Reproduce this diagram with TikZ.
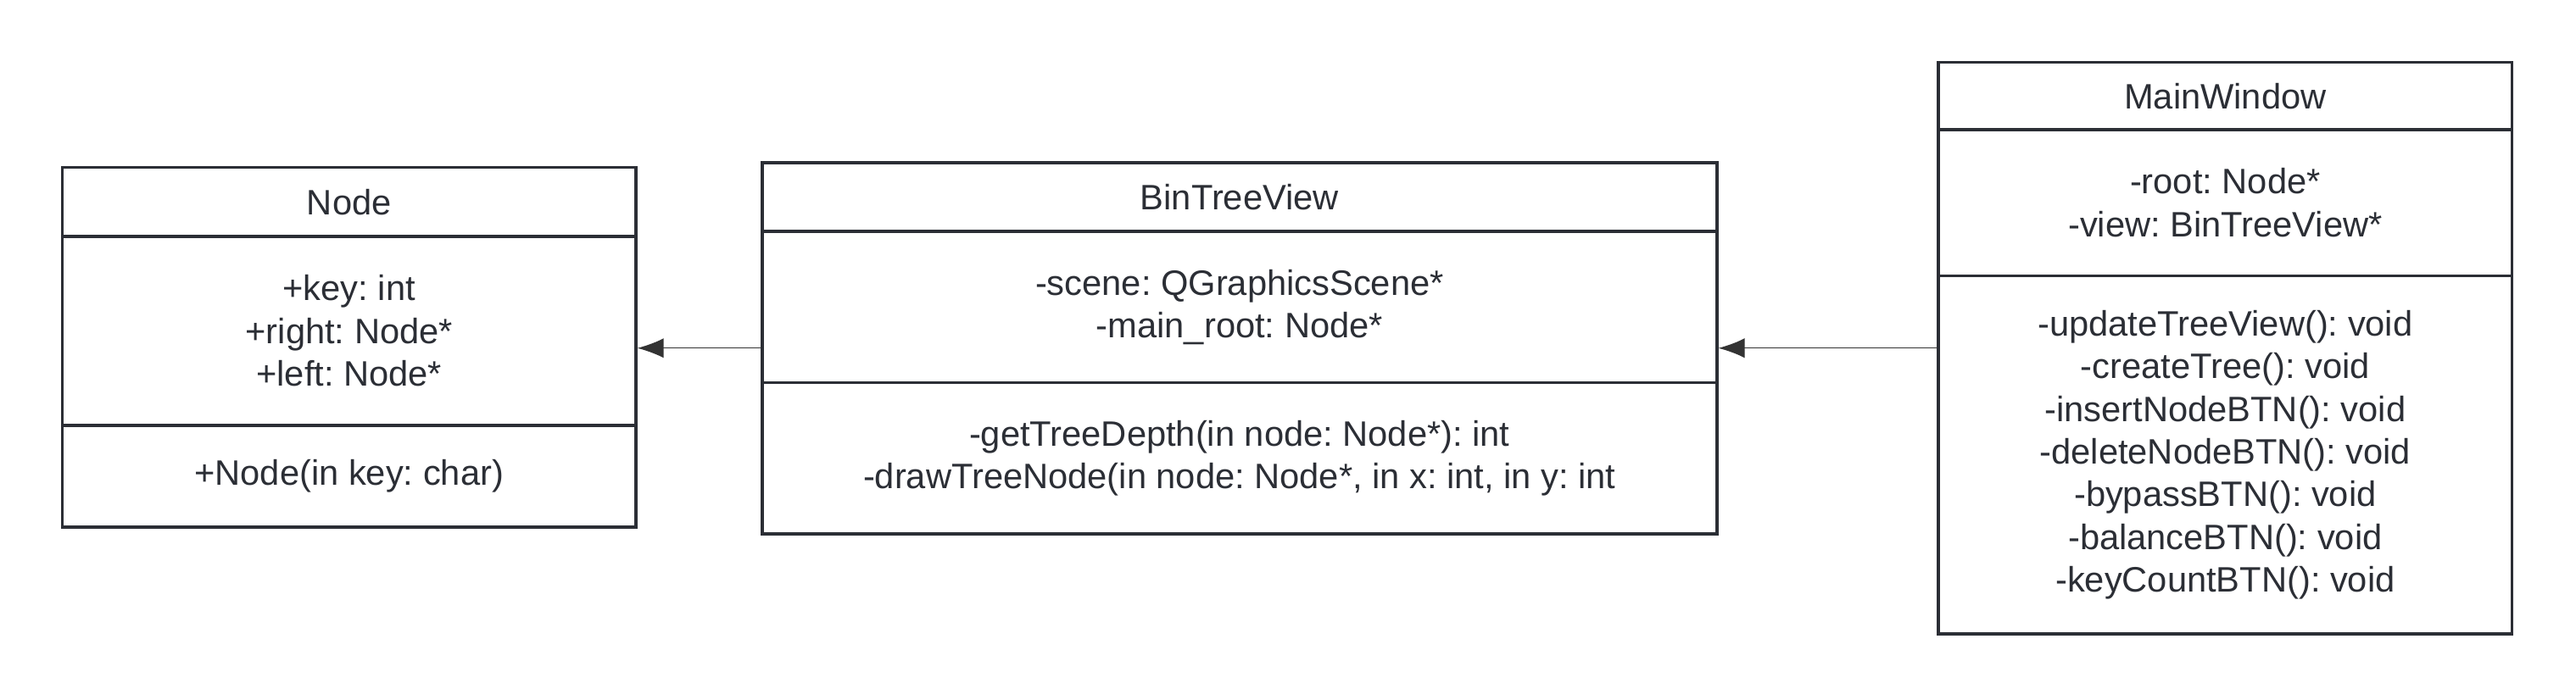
\documentclass[tikz,border=0pt]{standalone}
\usepackage{fontspec}
\setmainfont{Liberation Sans}
\usetikzlibrary{arrows.meta}
\definecolor{umlline}{HTML}{2B2E35}
\definecolor{umltip}{HTML}{333333}
\frenchspacing
\begin{document}
\begin{tikzpicture}[x=1pt,y=-1pt,
  part/.style={draw=umlline,line width=1.9pt,rectangle,inner sep=0pt,align=center,text=umlline,font=\fontsize{21.5}{26}\selectfont},
  link/.style={draw=umltip,line width=0.7pt,-{Latex[length=16pt,width=12pt]}}]
\useasboundingbox (0,0) rectangle (1568,426);
% class Node
\node[part,minimum width=349pt,minimum height=42pt](nodetitle) at (212.5,123){Node};
\node[part,minimum width=349pt,minimum height=115pt](nodeattr) at (212.5,201.5){+key: int\\+right: Node*\\+left: Node*};
\node[part,minimum width=349pt,minimum height=62pt](nodeops) at (212.5,290){+Node(in key: char)};
% class BinTreeView
\node[part,minimum width=581pt,minimum height=42pt](treetitle) at (754.5,120){BinTreeView};
\node[part,minimum width=581pt,minimum height=92pt](treeattr) at (754.5,187){-scene: QGraphicsScene*\\-main\_root: Node*};
\node[part,minimum width=581pt,minimum height=92pt](treeops) at (754.5,279){-getTreeDepth(in node: Node*): int\\-drawTreeNode(in node: Node*, in x: int, in y: int};
% class MainWindow
\node[part,minimum width=349pt,minimum height=41pt](wintitle) at (1354.5,58.5){MainWindow};
\node[part,minimum width=349pt,minimum height=89pt](winattr) at (1354.5,123.5){-root: Node*\\-view: BinTreeView*};
\node[part,minimum width=349pt,minimum height=218pt](winops) at (1354.5,277){-updateTreeView(): void\\-createTree(): void\\-insertNodeBTN(): void\\-deleteNodeBTN(): void\\-bypassBTN(): void\\-balanceBTN(): void\\-keyCountBTN(): void};
% links
\coordinate(linky) at (0,212);
\draw[link](treeattr.west|-linky)--(nodeattr.east|-linky);
\draw[link](winops.west|-linky)--(treeattr.east|-linky);
\end{tikzpicture}
\end{document}
